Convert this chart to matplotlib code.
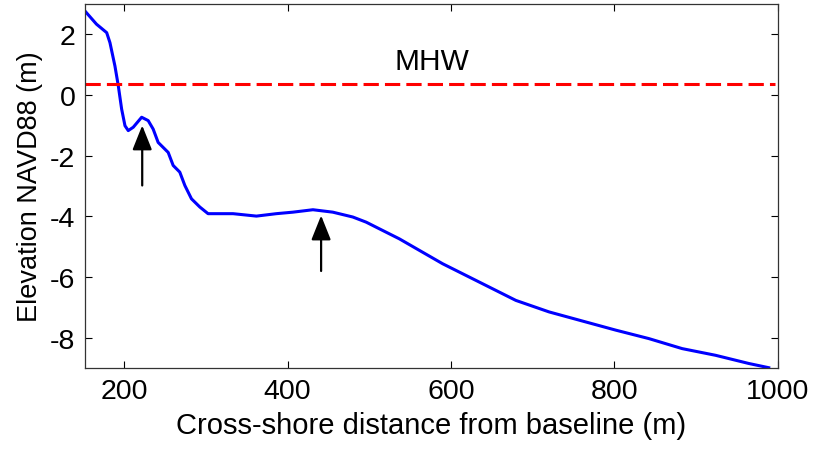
import numpy as np
import matplotlib
matplotlib.use('Agg')
import matplotlib.pyplot as plt

# perfil de playa (distancia cross-shore, elevacion NAVD88)
dist = [152, 166, 178.5, 182.5, 188.6, 192.7, 196.8, 200.9, 204.9, 211, 221.3,
        229.3, 235.4, 241.5, 253.8, 259.9, 268, 274.2, 282.3, 292.5, 302.6,
        333.2, 361.8, 386.2, 406.5, 431, 455.3, 479.8, 496.2, 512.4, 536.8,
        561.3, 589.7, 630.5, 679.4, 720.1, 764.9, 801.6, 842.3, 883, 923.8,
        964.5, 989]
elev = [2.77, 2.34, 2.06, 1.73, 0.96, 0.31, -0.46, -1.01, -1.17, -1.06, -0.73,
        -0.84, -1.12, -1.56, -1.89, -2.32, -2.54, -2.98, -3.42, -3.69, -3.91,
        -3.91, -3.99, -3.91, -3.86, -3.78, -3.86, -4.02, -4.19, -4.41, -4.74,
        -5.12, -5.56, -6.11, -6.77, -7.15, -7.48, -7.75, -8.03, -8.36, -8.58,
        -8.85, -8.99]

mhw = 0.38
# flechas: (x, y_cola, y_punta)
arrows = [(222, -2.98, -1.0), (441, -5.8, -3.97)]

plt.rcParams['font.family'] = ['Liberation Sans', 'DejaVu Sans']
plt.rcParams['axes.unicode_minus'] = False

fig = plt.figure(figsize=(8.13, 4.52), dpi=100)
ax = fig.add_axes([0.1046, 0.1836, 0.852, 0.805])

ax.plot(dist, elev, color='#0000ff', lw=2.2)
ax.plot([152, 997], [mhw, mhw], color='red', lw=2.2, ls=(0, (5, 2)))
ax.text(577, 1.12, 'MHW', fontsize=21.5, ha='center', va='center')

for x, y0, y1 in arrows:
    ax.annotate('', xy=(x, y1), xytext=(x, y0),
                arrowprops=dict(arrowstyle='-|>,head_length=0.75,head_width=0.3',
                                color='black', lw=1.6,
                                mutation_scale=20, shrinkA=0, shrinkB=0))

ax.set_xlim(152, 1000)
ax.set_ylim(-9, 3)
ax.set_xticks([200, 400, 600, 800, 1000])
ax.set_yticks([-8, -6, -4, -2, 0, 2])
ax.tick_params(direction='in', top=True, right=True, length=5, width=0.8,
               labelsize=20.5, pad=7)
for s in ax.spines.values():
    s.set_linewidth(0.9)
    s.set_color('#333333')

ax.set_xlabel('Cross-shore distance from baseline (m)', fontsize=21, labelpad=5)
ax.set_ylabel('Elevation NAVD88 (m)', fontsize=19.5, labelpad=5)

fig.savefig('out.png', dpi=100)
